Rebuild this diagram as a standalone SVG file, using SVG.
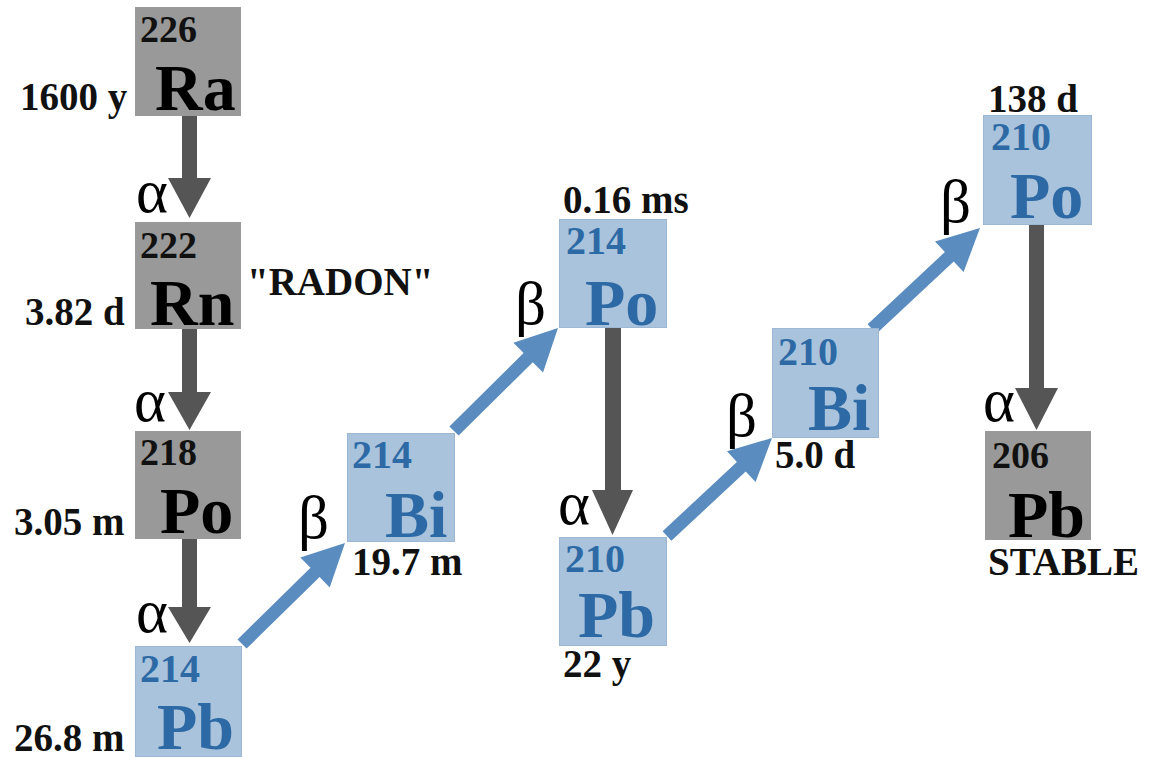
<svg xmlns="http://www.w3.org/2000/svg" width="1150" height="757" viewBox="0 0 1150 757">
<style>
text{font-family:"Liberation Serif","Times New Roman",serif;font-weight:bold}
.gbox{fill:#999999}
.bbox{fill:#a9c3dd;stroke:#9bb7d3;stroke-width:1}
.num{font-size:38px;fill:#111}
.bnum{font-size:40px;fill:#2d6aa5}
.sym{font-size:66px;fill:#000}
.bsym{font-size:66px;fill:#2d6aa5}
.hl{font-size:39px;fill:#111}
.greek{font-size:61px;font-weight:normal;fill:#000}
.ga{fill:#555555}
.ba{fill:#5b8cbf}
</style>
<rect width="1150" height="757" fill="#ffffff"/>
<g id="connectors">
<polygon class="ga" points="182,116 197,116 197,178 211,178 189.5,218 168,178 182,178"/>
<polygon class="ga" points="182,329 197,329 197,392 211,392 189.5,430 168,392 182,392"/>
<polygon class="ga" points="182,539 197,539 197,607 211,607 189.5,643 168,607 182,607"/>
<polygon class="ga" points="605,327 621,327 621,490 633,490 612.5,535 592,490 605,490"/>
<polygon class="ga" points="1029,224 1044,224 1044,388 1058,388 1036.5,430 1015,388 1029,388"/>
<polygon class="ba" points="246.6,648.6 319.6,577 329.7,587.4 345,543 300.3,557.4 310.5,567.8 237.5,639.4"/>
<polygon class="ba" points="458.6,435.6 532.8,362.2 543,372.5 558,328 513.4,342.7 523.6,353 449.4,426.4"/>
<polygon class="ba" points="671.4,540.8 745.7,471.4 755.6,482 772,438 727,451.2 736.9,461.9 662.6,531.3"/>
<polygon class="ba" points="876.4,333.8 953.7,261.5 963.6,272 980,228 935,241.4 944.9,252 867.6,324.3"/>
<text class="greek" x="136" y="212">α</text>
<text class="greek" x="134" y="421">α</text>
<text class="greek" x="136" y="632">α</text>
<text class="greek" x="558" y="524">α</text>
<text class="greek" x="983" y="421">α</text>
<text class="greek" x="298" y="538">β</text>
<text class="greek" x="515" y="324">β</text>
<text class="greek" x="726" y="436">β</text>
<text class="greek" x="940" y="222">β</text>
</g>
<g id="ra226">
<rect class="gbox" x="135" y="7" width="106" height="109"/>
<text class="num" x="140" y="42">226</text>
<text class="sym" x="155" y="110">Ra</text>
<text class="hl" x="20" y="110">1600 y</text>
</g>
<g id="rn222">
<rect class="gbox" x="135" y="222" width="106" height="107"/>
<text class="num" x="140" y="258">222</text>
<text class="sym" x="150" y="325">Rn</text>
<text class="hl" x="25" y="325">3.82 d</text>
<text class="hl" x="247" y="295">"RADON"</text>
</g>
<g id="po218">
<rect class="gbox" x="135" y="431" width="106" height="108"/>
<text class="num" x="140" y="465">218</text>
<text class="sym" x="160" y="533">Po</text>
<text class="hl" x="14" y="535">3.05 m</text>
</g>
<g id="pb214">
<rect class="bbox" x="135.5" y="646.5" width="106" height="110"/>
<text class="bnum" x="140" y="682">214</text>
<text class="bsym" x="157" y="749">Pb</text>
<text class="hl" x="14" y="751">26.8 m</text>
</g>
<g id="bi214">
<rect class="bbox" x="347.5" y="433.5" width="107" height="108"/>
<text class="bnum" x="352" y="468">214</text>
<text class="bsym" x="385" y="537">Bi</text>
<text class="hl" x="352" y="575">19.7 m</text>
</g>
<g id="po214">
<rect class="bbox" x="559.5" y="219.5" width="107" height="108"/>
<text class="hl" x="563" y="213">0.16 ms</text>
<text class="bnum" x="566" y="254">214</text>
<text class="bsym" x="585" y="325">Po</text>
</g>
<g id="pb210">
<rect class="bbox" x="559.5" y="537.5" width="107" height="108"/>
<text class="bnum" x="565" y="572">210</text>
<text class="bsym" x="578" y="637">Pb</text>
<text class="hl" x="563" y="677">22 y</text>
</g>
<g id="bi210">
<rect class="bbox" x="772.5" y="328.5" width="106" height="109"/>
<text class="bnum" x="778" y="365">210</text>
<text class="bsym" x="808" y="430">Bi</text>
<text class="hl" x="775" y="468">5.0 d</text>
</g>
<g id="po210">
<rect class="bbox" x="983.5" y="115.5" width="108" height="109"/>
<text class="hl" x="988" y="112">138 d</text>
<text class="bnum" x="991" y="150">210</text>
<text class="bsym" x="1010" y="218">Po</text>
</g>
<g id="pb206">
<rect class="gbox" x="985" y="431" width="106" height="109"/>
<text class="num" x="992" y="468">206</text>
<text class="sym" x="1008" y="537">Pb</text>
<text class="hl" x="988" y="575">STABLE</text>
</g>
</svg>
